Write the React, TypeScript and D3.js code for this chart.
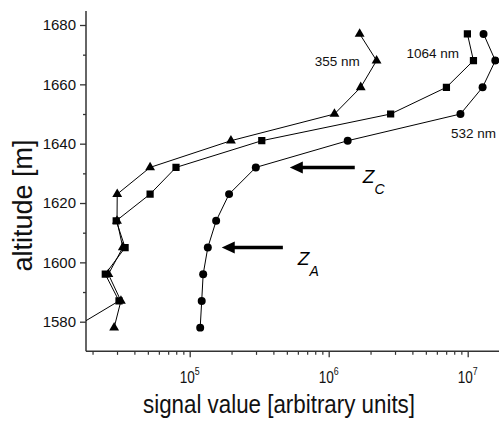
import React, { useEffect, useRef } from "react";
import * as d3 from "d3";

// altitude levels [m], bottom to top
const altitudes = [1578, 1587, 1596, 1605, 1614, 1623, 1632, 1641, 1650, 1659, 1668, 1677];

// signal values per wavelength, same order as altitudes
const signal355 = [2.86e4, 3.2e4, 2.6e4, 3.3e4, 3.0e4, 3.01e4, 5.19e4, 1.98e5, 1.1e6, 1.7e6, 2.21e6, 1.67e6];
const signal1064 = [1.48e4, 3.1e4, 2.47e4, 3.43e4, 2.96e4, 5.19e4, 7.97e4, 3.3e5, 2.79e6, 7.03e6, 1.1e7, 9.95e6];
const signal532 = [1.19e5, 1.22e5, 1.25e5, 1.35e5, 1.55e5, 1.92e5, 2.99e5, 1.37e6, 8.87e6, 1.28e7, 1.58e7, 1.3e7];

const yTicks = [1580, 1600, 1620, 1640, 1660, 1680];
const yMinor = [1590, 1610, 1630, 1650, 1670];
const xTicks = [1e5, 1e6, 1e7];
const xExponents = ["5", "6", "7"];

// series labels: [text, signal, altitude, anchor]
const seriesLabels: [string, number, number, string][] = [
  ["355 nm", 1.67e6, 1666.3, "end"],
  ["1064 nm", 8.65e6, 1668.8, "end"],
  ["532 nm", 1.6e7, 1642, "end"],
];

// arrows: [tip signal, tail signal, altitude, label, sub, label signal, label altitude]
const arrows: [number, number, number, string, string, number, number][] = [
  [5.25e5, 1.54e6, 1632, "Z", "C", 1.76e6, 1626.7],
  [1.7e5, 4.68e5, 1605, "Z", "A", 6.0e5, 1599.1],
];

const FONT = "'Liberation Sans', Arial, sans-serif";

const AltitudeChart = () => {
  const svgRef = useRef<SVGSVGElement>(null);

  const width = 499;
  const height = 421;

  useEffect(() => {
    const svg = d3.select(svgRef.current);
    svg.selectAll("*").remove();

    const x = d3.scaleLog().domain([1e5, 1e7]).range([189.7, 467.7]);
    const y = d3.scaleLinear().domain([1580, 1680]).range([321.7, 25]);
    const axisX = 86;
    const axisY = y(1570);
    const axisColor = "#333";

    svg
      .append("defs")
      .append("clipPath")
      .attr("id", "plot-clip")
      .append("rect")
      .attr("x", axisX)
      .attr("y", 0)
      .attr("width", width - axisX)
      .attr("height", axisY);

    // y axis
    svg
      .append("line")
      .attr("x1", axisX)
      .attr("x2", axisX)
      .attr("y1", y(1684.7))
      .attr("y2", axisY)
      .attr("stroke", axisColor)
      .attr("stroke-width", 1.5);

    const yAxis = svg
      .append("g")
      .attr("transform", `translate(${axisX},0)`)
      .call(
        d3
          .axisLeft(y)
          .tickValues(yTicks)
          .tickSize(6)
          .tickSizeOuter(0)
          .tickPadding(4)
          .tickFormat(d3.format("d"))
      );
    yAxis.select(".domain").remove();
    yAxis.selectAll("line").attr("stroke", axisColor).attr("stroke-width", 1.3);
    yAxis
      .selectAll("text")
      .attr("font-family", FONT)
      .attr("font-size", 15)
      .attr("fill", "#111")
      .attr("dy", "0.33em");

    const yMinorAxis = svg
      .append("g")
      .attr("transform", `translate(${axisX},0)`)
      .call(d3.axisLeft(y).tickValues(yMinor).tickSize(3).tickFormat(() => ""));
    yMinorAxis.select(".domain").remove();
    yMinorAxis.selectAll("line").attr("stroke", axisColor).attr("stroke-width", 1.3);

    // x axis
    svg
      .append("line")
      .attr("x1", axisX)
      .attr("x2", width)
      .attr("y1", axisY)
      .attr("y2", axisY)
      .attr("stroke", axisColor)
      .attr("stroke-width", 1.5);

    const minorX: number[] = [];
    [1e4, 1e5, 1e6].forEach((d) => {
      for (let k = 2; k <= 9; k++) minorX.push(d * k);
    });

    const xAxis = svg
      .append("g")
      .attr("transform", `translate(0,${axisY})`)
      .call(d3.axisBottom(x).tickValues(xTicks).tickSize(6).tickFormat(() => ""));
    xAxis.select(".domain").remove();
    xAxis.selectAll("line").attr("stroke", axisColor).attr("stroke-width", 1.3);

    const xMinorAxis = svg
      .append("g")
      .attr("transform", `translate(0,${axisY})`)
      .call(
        d3
          .axisBottom(x)
          .tickValues(minorX.filter((d) => x(d) >= axisX))
          .tickSize(3.5)
          .tickFormat(() => "")
      );
    xMinorAxis.select(".domain").remove();
    xMinorAxis.selectAll("line").attr("stroke", axisColor).attr("stroke-width", 1.2);

    xTicks.forEach((t, i) => {
      const g = svg
        .append("g")
        .attr("transform", `translate(${x(t) - 10},383) scale(0.8,1)`);
      const txt = g
        .append("text")
        .attr("font-family", FONT)
        .attr("font-size", 17)
        .attr("fill", "#111");
      txt.append("tspan").text("10");
      txt.append("tspan").attr("font-size", 11).attr("dy", -8).text(xExponents[i]);
    });

    // axis titles
    svg
      .append("text")
      .attr("x", 143)
      .attr("y", 413)
      .attr("font-family", FONT)
      .attr("font-size", 26)
      .attr("textLength", 272)
      .attr("lengthAdjust", "spacingAndGlyphs")
      .attr("fill", "#111")
      .text("signal value [arbitrary units]");

    svg
      .append("text")
      .attr("transform", `translate(32,${(138 + 273) / 2}) rotate(-90)`)
      .attr("text-anchor", "middle")
      .attr("font-family", FONT)
      .attr("font-size", 27)
      .attr("fill", "#111")
      .text("altitude [m]");

    // series
    const plot = svg.append("g").attr("clip-path", "url(#plot-clip)");
    const series = [
      { values: signal355, symbol: d3.symbolTriangle, size: 42 },
      { values: signal1064, symbol: d3.symbolSquare, size: 52 },
      { values: signal532, symbol: d3.symbolCircle, size: 50 },
    ];

    const line = d3
      .line<number>()
      .x((d) => x(d))
      .y((d, i) => y(altitudes[i]));

    series.forEach((s) => {
      plot
        .append("path")
        .datum(s.values)
        .attr("fill", "none")
        .attr("stroke", "#000")
        .attr("stroke-width", 1)
        .attr("d", line);

      plot
        .selectAll(null)
        .data(s.values)
        .enter()
        .append("path")
        .attr("transform", (d, i) => `translate(${x(d)},${y(altitudes[i])})`)
        .attr("d", d3.symbol().type(s.symbol).size(s.size)())
        .attr("fill", "#000");
    });

    seriesLabels.forEach(([label, sv, alt, anchor]) => {
      svg
        .append("text")
        .attr("x", x(sv))
        .attr("y", y(alt))
        .attr("text-anchor", anchor)
        .attr("font-family", FONT)
        .attr("font-size", 13.5)
        .attr("fill", "#111")
        .text(label);
    });

    // arrows with Z labels
    arrows.forEach(([tip, tail, alt, lab, sub, lx, ly]) => {
      const yy = y(alt);
      const xt = x(tip);
      svg
        .append("line")
        .attr("x1", xt + 10)
        .attr("x2", x(tail))
        .attr("y1", yy)
        .attr("y2", yy)
        .attr("stroke", "#000")
        .attr("stroke-width", 3.5);
      svg
        .append("path")
        .attr("d", `M${xt},${yy}L${xt + 13},${yy - 6}L${xt + 13},${yy + 6}Z`)
        .attr("fill", "#000");

      const t = svg
        .append("text")
        .attr("x", x(lx))
        .attr("y", y(ly))
        .attr("font-family", FONT)
        .attr("font-style", "italic")
        .attr("font-size", 19)
        .attr("fill", "#000");
      t.append("tspan").text(lab);
      t.append("tspan").attr("font-size", 14).attr("dy", 11).text(sub);
    });
  }, []);

  return (
    <svg
      ref={svgRef}
      width={width}
      height={height}
      style={{ position: "absolute", left: 0, top: 0, background: "#fff" }}
    />
  );
};

export default function App() {
  return <AltitudeChart />;
}
